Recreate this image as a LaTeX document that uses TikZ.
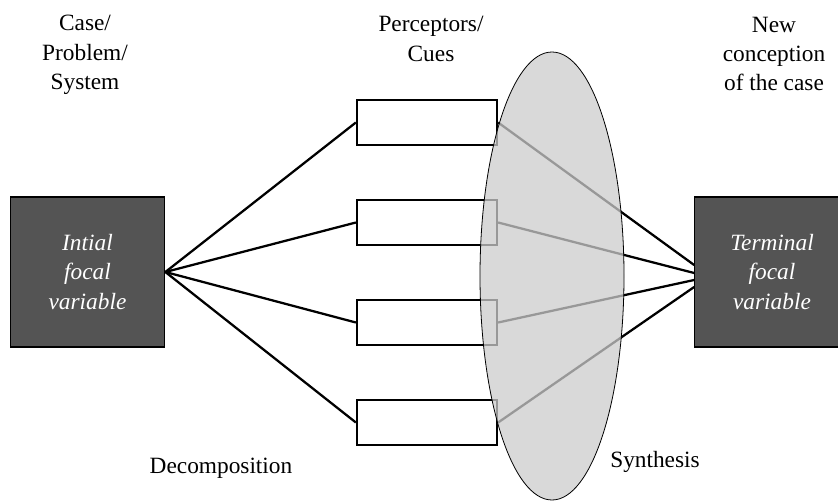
\documentclass[tikz,border=0pt]{standalone}
\usepackage{fontspec}
\setmainfont{Liberation Serif}
\usepackage{tikz}
\usepackage{xcolor}
\usetikzlibrary{shapes.geometric}
\definecolor{focalgray}{gray}{0.33}
\definecolor{lensgray}{gray}{0.8}

\begin{document}
\begin{tikzpicture}[x=0.75pt,y=-0.75pt,
  txt/.style={font=\fontsize{17.5}{22}\selectfont},
  focal/.style={txt,draw=black,fill=focalgray,text=white,font=\fontsize{17.5}{22}\selectfont\itshape,
    align=center,minimum width=116pt,minimum height=112.5pt,line width=0.8pt},
  cue/.style={draw=black,fill=white,line width=1.7pt,minimum width=105pt,minimum height=33.75pt,inner sep=0pt},
  link/.style={line width=1.7pt},
  lensshape/.style={ellipse,draw=black,line width=0.6pt,fill=lensgray,fill opacity=0.75,
    minimum width=108pt,minimum height=336pt,inner sep=0pt},
  caption/.style={txt,align=center,inner sep=0pt}]
\clip (0,0) rectangle (838,503);
% focal variables
\node[focal] (init) at (87.5,272) {Intial\\focal\\variable};
\node[focal] (term) at (772,272) {Terminal\\focal\\variable};
% perceptors / cues
\node[cue] (cue1) at (427,122.5) {};
\node[cue] (cue2) at (427,222.5) {};
\node[cue] (cue3) at (427,322.5) {};
\node[cue] (cue4) at (427,422.5) {};
\foreach \i in {1,...,4}
  \draw[link] (init.east) -- (cue\i.west);
\foreach \i/\dy in {1/5.25,2/-0.75,3/-6,4/-11.25}
  \draw[link] (cue\i.east) -- ([yshift=\dy pt]term.west);
% synthesis lens
\node[lensshape] (lens) at (552,276) {};
% captions
\node[caption] (case) at (85,55) {Case/\\Problem/\\System};
\node[caption] (perc) at (431,39) {Perceptors/\\Cues};
\node[caption] (newc) at (774,54) {New\\conception\\of the case};
\node[caption] (dec) at (221,468) {Decomposition};
\node[caption] (syn) at (655,462) {Synthesis};
\end{tikzpicture}
\end{document}
